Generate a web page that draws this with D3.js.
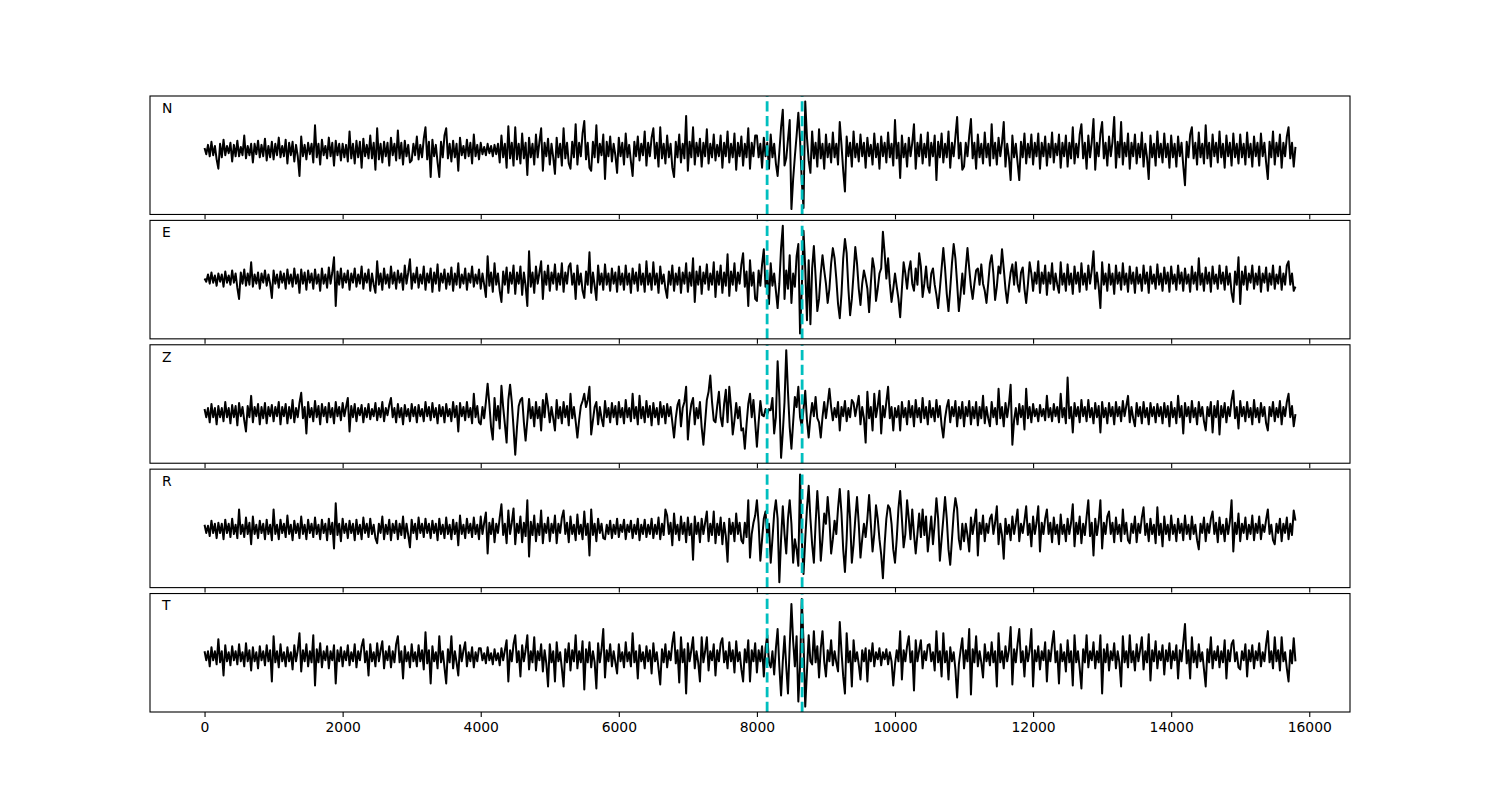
<!DOCTYPE html>
<html>
<head>
<meta charset="utf-8">
<title>Seismogram</title>
<script src="https://d3js.org/d3.v7.min.js"></script>
<style>
  body { margin: 0; background: #fff; }
  text { font-family: "DejaVu Sans", sans-serif; }
</style>
</head>
<body>
<svg id="chart" width="1500" height="800"></svg>
<script>

var components = ["N", "E", "Z", "R", "T"];
var sampleStep = 25;          // one value every 25 samples
var picks = [8148, 8655];     // dashed cyan markers
var xTicks = [0, 2000, 4000, 6000, 8000, 10000, 12000, 14000, 16000];

// amplitudes (arbitrary units), one row = 1000 samples
var traceN = [
  2,-4,5,-6, 8,-5,4,-9, -18,6,-7,10, -5,4,-3,7, -11,5,-6,9, -6,3,-5,14, -8,4,-5,6, -12,6,-4,9, -7,5,-6,11, -10,4,-7,8,
  -9,6,-5,12, -7,4,-6,10, -13,7,-5,8, -11,5,-6,-25, 13,-6,5,-9, 7,-4,6,-12, 24,-7,6,-14, 10,-5,4,-8, 12,-6,7,-15, 9,-5,6,-10,
  6,-7,5,-11, 18,-8,6,-13, 9,-7,8,-17, 11,-6,5,-8, 14,-8,7,-19, 21,-9,6,-12, 8,-6,7,-15, 12,-5,6,-10, 19,-8,7,-14, 9,-6,5,-12,
  -10,6,-5,13, -9,5,-7,11, 22,-9,8,-26, 10,-6,5,-12, -26,8,-7,14, 21,-8,6,-11, 9,-7,6,-20, 12,-5,4,-8, 10,-6,7,-13, 15,-6,5,-9,
  7,-4,3,-5, 6,-3,4,-6, 5,-4,6,-12, 14,-7,6,-17, 23,-8,7,-15, 22,-9,6,-13, 16,-8,7,-24, 12,-7,6,-14, 15,-7,8,21, -20,7,-6,11,
  -14,6,-7,-23, 12,-7,6,-15, 21,-8,7,-13, -18,8,-7,25, -14,7,-6,16, 28,-9,7,-17, -20,8,-7,24, -12,6,-5,15, -28,8,-6,13, -11,6,-5,-22,
  12,-6,7,-14, 16,-7,5,-11, -25,8,-6,13, -10,6,-5,18, -15,7,-6,12, 21,-8,7,-16, 22,-8,6,-13, 14,-7,6,-17, -26,8,-7,15, -12,6,-8,33,
  -20,8,-7,22, -14,7,-6,11, -16,7,-6,20, -13,6,-7,15, -10,5,-6,14, -17,7,-6,18, -12,6,-7,16, -19,7,-6,13, -15,6,-7,21, -18,7,-6,14,
  14,-7,6,-17, 12,-6,7,-18, 15,-7,6,-13, -25,-2,22,39, -15,-8,10,29, -57,-28,-6,14, 36,10,-30,-56, 47,12,-10,-22, 18,-8,7,-16, 20,-8,6,-18,
  15,-7,6,-12, 17,-7,6,-14, 27,5,-20,-40, 13,-6,7,-16, 18,-7,6,-11, 15,-6,7,-17, 12,-6,5,-14, 16,-7,6,-18, 13,-6,7,-12, 17,-7,6,-15,
  29,-8,7,-27, 14,-7,6,-16, 12,-6,7,25, -18,7,-6,15, -13,6,-7,17, -15,7,-6,14, -29,8,-7,16, -12,6,-7,18, -17,7,-6,13, 32,-8,7,-19,
  -16,7,-6,14, 30,-8,7,-18, 15,-7,6,-13, 17,-7,6,-15, 25,-8,7,-14, 12,-6,7,27, -16,6,-7,-29, 14,-7,6,-12, -29,8,-7,16, -13,6,-7,15,
  -14,7,-6,16, -18,7,-6,13, -15,6,-7,17, -12,6,-5,15, -17,7,-6,14, -16,7,-8,22, -13,6,-7,15, 25,-8,7,-18, 14,-7,8,30, -19,7,-6,16,
  27,-8,7,-15, 13,-6,8,32, -17,8,-7,27, -14,7,-6,16, -18,7,-6,15, -13,6,-7,17, -16,6,-7,-28, 14,-7,6,-15, 18,-7,6,-12, 16,-7,6,-17,
  14,-7,6,-16, 13,-6,7,-15, -34,8,-7,15, 22,-8,7,-14, 17,-7,6,-13, 24,-8,7,-16, 15,-6,7,-12, 18,-7,6,-17, 14,-6,7,-15, 16,-7,6,-13,
  15,-7,6,-14, 17,-7,6,-16, 13,-6,7,-15, 16,-6,7,-12, -28,8,-7,18, -14,7,-6,15, -17,7,-6,13, 22,-8,7,-16, 3
];

var traceE = [
  0,-3,4,-5, 6,-4,3,-7, 5,-3,4,-8, 7,-4,3,-6, 8,-4,5,-9, -20,6,-5,9, -7,5,-6,16, -8,4,-5,6, -10,5,-4,8, -7,4,-5,-19,
  8,-5,4,-9, 7,-4,5,-10, 9,-5,4,-8, 10,-5,4,-14, 9,-5,6,-11, 8,-4,5,-10, 9,-5,4,-12, 10,-5,4,-9, 11,-5,6,21, -27,7,-6,10,
  -9,5,-4,8, -11,5,-4,10, -8,4,-5,12, -10,5,-4,9, -12,5,-6,-14, 17,-6,5,-11, 10,-5,4,-9, 12,-5,6,-10, 8,-4,5,-11, 13,-5,6,19,
  -10,5,-4,11, -9,4,-5,12, -11,5,-4,10, -13,6,-5,14, -12,5,-4,9, -10,5,-6,11, -12,5,-6,15, -9,4,-5,10, -11,5,-4,12, -8,4,-5,9,
  -10,5,-6,-18, 22,-7,6,-13, 15,-6,5,-12, -23,7,-6,11, -14,6,-5,13, -15,6,-5,12, -16,6,-7,-27, 27,-8,6,-14, 12,-5,6,17, -20,7,-6,13,
  -12,6,-5,14, -11,5,-6,15, -13,6,-5,12, 15,-6,5,-20, 13,-6,5,-12, -19,7,-6,26, -14,6,-7,-21, 13,-6,5,-11, 14,-6,5,-12, 10,-5,6,-13,
  12,-6,5,-11, 13,-6,5,-14, 10,-5,6,-12, 14,-6,5,-13, 17,-6,5,-11, 16,-6,5,-14, 12,-5,4,-10, -19,7,-6,13, -12,5,-6,11, -14,6,-5,15,
  -13,6,-7,20, -23,7,-6,12, -15,6,-5,14, -11,5,-6,16, -18,7,-6,13, -14,6,-7,24, -17,7,-6,15, -12,6,-5,14, 25,-8,7,-27, 18,-7,6,-20,
  -22,8,-7,14, 29,-8,6,-25, 15,-7,5,-12, -29,-5,30,52, -20,8,-10,23, -24,5,-8,22, 34,-54,-10,47, 10,-41,18,-45, 10,32,2,-32, -20,5,23,8,
  -5,-24,-10,15, 30,20,0,-25, -39,-15,20,39, 25,-10,-36,-20, 5,31,15,-10, -26,-5,8,0, -10,-33,-5,20, 10,-22,-10,5, 10,46,25,0, 20,-5,-23,-10,
  5,-8,-20,-38, -10,16,5,-10, 8,17,-5,-12, 10,-6,25,12, -18,-5,12,-8, -14,5,10,-6, -16,-29,-10,10, 30,10,-15,-32, -10,15,34,20, -5,-32,-15,5,
  -15,10,30,10, -8,-20,-5,8, 10,-6,14,-5, -12,-24,-5,15, 23,5,-21,-8, 12,5,29,10, -10,-24,-8,6, 14,-6,16,-5, -13,6,11,-10, -24,-6,16,5,
  -12,6,-5,17, -14,6,-5,13, -16,6,-5,15, -11,5,-6,-14, 16,-6,5,-12, 14,-6,5,-15, 12,-5,6,-13, 15,-6,5,-11, 13,-5,8,27, -10,6,-8,-29,
  16,-6,5,-12, 14,-6,5,-15, 13,-5,6,-11, 15,-6,5,-13, 12,-5,6,-14, 11,-5,4,-12, 13,-5,6,-14, 12,-5,4,-10, 14,-6,5,-12, 11,-5,6,-13,
  12,-5,4,-11, 13,-5,6,-12, 10,-5,4,-13, 12,-5,6,-11, 20,-6,5,-12, 11,-5,6,-13, 12,-5,4,-10, 13,-5,6,-11, 12,-6,5,-14, -23,7,-6,21,
  -25,7,-6,12, -11,5,-4,13, -10,5,-6,12, -13,5,-4,11, -12,5,-6,13, -10,4,-5,12, -11,5,-6,13, 17,-6,5,-12, -8
];

var traceZ = [
  3,-5,4,-10, 8,-5,4,-12, 6,-5,4,-9, 10,-5,4,-11, 7,-5,6,-13, 9,-4,5,-8, -19,6,-5,16, -10,5,-4,8, -12,5,-6,9, -11,5,-4,7,
  -9,5,-4,10, -12,5,-4,8, -11,5,-6,12, -10,4,-5,9, 19,-6,5,-21, 10,-5,4,-9, 11,-5,6,-12, 8,-4,5,-10, 9,-5,4,-11, 10,-4,5,-8,
  9,-4,5,14, -19,6,-5,8, -9,4,-3,7, -10,4,-5,8, -7,3,-4,9, -8,4,-5,10, -9,4,-3,7, 14,-5,4,-10, 8,-5,4,-12, 7,-4,3,-9,
  8,-4,5,-10, 7,-4,3,-9, 10,-4,5,-8, 9,-5,4,-11, 7,-4,5,-10, 8,-4,3,-9, 10,-5,6,-19, 9,-4,5,-8, 10,-5,4,-11, 18,-5,6,-10,
  -12,5,-6,10, 28,8,-15,-27, 14,-8,6,-16, 26,5,-12,-30, 12,27,10,-15, -42,-15,6,12, 14,-10,-28,-8, 13,-6,5,-14, 10,-6,5,-18, 12,-5,18,6,
  -10,5,-6,-18, 12,-6,5,-11, 10,-5,6,-13, 18,-6,5,-9, -25,-8,6,11, 18,5,12,25, -22,-8,5,10, -12,5,-6,-14, 11,-5,4,-10, 9,-5,6,-12,
  10,-5,4,-11, 12,-5,4,-9, 18,-6,5,-12, 16,-6,5,-10, 11,-5,6,-13, 9,-5,4,-12, 10,-5,6,-11, 8,-4,5,-10, -25,-6,7,12, -14,4,10,25,
  -27,-5,8,14, -12,4,-6,10, -15,-32,-10,12, 20,36,10,-8, -10,6,20,-5, -14,8,22,-10, 25,5,-22,-8, 9,-6,5,-18, -16,-36,-12,8, 18,-5,12,-10,
  -34,-10,11,-3, -4,3,-2,3, 2,14,-21,-5, 50,15,-45,-20, 10,61,20,-15, -36,-10,15,5, 25,-5,-14,3, 21,-8,-25,-5, 9,-4,15,-6, -10,-25,-5,10,
  -6,8,23,5, -8,4,-5,10, -18,5,-4,11, -9,4,-5,12, 9,-4,6,16, -12,5,-6,-30, 20,-6,5,-18, 18,-5,6,21, -21,6,-5,10, 25,-6,5,-18,
  4,-5,6,-18, 10,-5,4,-12, 11,-5,6,-14, 12,-5,4,-10, 14,-6,5,-12, 11,-5,4,-9, 12,-5,6,-13, -25,-6,5,12, -10,5,-4,11, -14,5,-6,10,
  -14,5,-4,11, -12,5,-6,10, -13,5,-6,16, -11,5,-6,-14, 10,-5,4,-12, 23,-6,5,-14, 9,-5,8,27, -32,-8,4,-12, 8,-5,6,-17, 23,-6,5,-10,
  8,-4,3,-9, 7,-4,3,-8, 16,-5,4,-9, 8,-4,5,-10, 18,-5,4,-11, 34,-6,5,-20, 9,-4,5,-10, 12,-4,5,-9, 12,-5,4,-11, 9,-5,6,-20,
  10,-5,4,-11, 9,-4,5,-12, 10,-4,5,-9, 11,-4,6,16, -10,5,-6,-14, 9,-4,5,-11, 10,-5,4,-12, 9,-4,5,-10, 8,-4,5,-11, 9,-5,6,-14,
  10,-5,4,-11, 16,-5,6,-21, 9,-4,5,-10, 11,-5,4,-12, 10,-4,5,-9, -18,5,-4,10, -20,6,-5,11, -22,6,-5,9, -10,5,-4,12, 21,-6,5,-16,
  11,-4,5,-9, 10,-5,4,-12, 12,-5,4,-10, 9,-4,5,-11, -18,5,-4,10, -9,4,-5,11, -12,5,-4,10, 18,-5,6,-14, -2
];

var traceR = [
  4,-4,3,-7, 8,-4,5,-9, 6,-4,5,-10, 9,-4,5,-8, 10,-5,4,-9, 19,-5,4,-8, 11,-5,6,-15, 12,-5,4,-9, 8,-4,5,-10, 9,-5,4,-11,
  19,-5,4,-10, 9,-4,5,-8, 13,-5,4,-11, 8,-4,5,-9, 12,-5,4,-10, 9,-4,5,-8, 11,-5,4,-10, 9,-4,5,-11, 10,-5,6,-19, 25,-6,5,-12,
  10,-4,5,-9, 8,-4,5,-11, 9,-5,4,-10, 11,-4,5,-8, 10,-5,4,-9, -14,5,-4,12, -10,4,-5,9, -11,5,-4,8, -10,5,-6,12, -9,5,-6,-18,
  9,-4,5,-10, 11,-4,5,-8, 10,-4,5,-9, 8,-4,5,-11, 10,-5,4,-9, 11,-5,4,-10, 9,-5,6,-16, 13,-5,4,-9, 10,-4,5,-8, 11,-5,4,-10,
  12,-5,6,16, -24,6,-5,10, -13,5,-4,11, 24,-6,5,-14, 18,-5,6,20, -15,5,-4,12, -13,6,-7,28, -27,7,-6,13, -12,5,-6,18, -14,5,-4,11,
  -12,5,-4,13, -14,5,-4,11, 18,-5,6,-13, 12,-5,4,-11, 14,-5,4,-10, 17,-6,5,-26, 19,-6,5,-12, 10,-4,5,-9, -10,4,-5,8, -9,4,-5,10,
  -8,4,-3,9, -10,4,-3,8, -9,4,-5,10, -11,4,-5,9, -8,4,-5,10, -9,4,-5,11, -10,5,-6,19, 13,-5,6,-16, 15,-5,4,-11, 12,-5,6,-13,
  11,-6,5,-30, 12,-5,6,-13, 10,-5,6,17, -12,5,-6,17, -14,5,-6,11, -15,6,-7,-32, 10,-5,6,-12, 15,-5,6,-11, -14,6,-8,28, -28,-5,6,13,
  28,5,-31,-10, 10,17,-8,5, -33,-10,15,28, 10,-52,-10,22, -5,-24,10,28, 5,-33,-10,-20, -36,53,-10,-44, -10,20,42,10, -15,-33,5,37, 10,-31,-10,15,
  5,31,10,-24, -10,8,-5,20, 39,15,-20,-42, -10,37,10,-33, -15,10,31,5, -28,-10,5,-8, 10,33,5,-22, -5,23,10,-10, -25,-48,-15,10, 23,20,5,-20,
  -33,-10,20,37, 10,-18,-5,28, 10,-10,19,-5, -24,-5,15,-8, 19,-6,12,-22, -5,12,-15,5, 30,10,-31,-10, 10,31,10,-20, -35,-10,15,30, 20,-10,-20,5,
  -12,5,-6,-22, 11,-5,6,19, -26,6,-5,13, -12,5,-4,10, 14,-5,6,22, -15,5,-6,-29, 10,-5,4,-11, 12,-5,6,19, -12,5,-4,8, 22,-6,5,-17,
  12,-5,6,22, -22,6,-5,10, 19,-5,6,-13, 11,-5,4,-15, 14,-5,4,-12, 10,-5,6,24, -17,6,-5,12, -14,5,-6,12, 28,-7,6,-26, 10,-6,7,28,
  -19,6,-5,12, 17,-5,6,-13, 11,-5,4,-12, 19,-5,6,-11, -14,5,-4,12, -13,5,-4,11, 21,-6,5,-12, 10,-5,4,-14, 21,-6,5,-17, 12,-5,4,-11,
  13,-5,4,-12, 10,-4,5,-11, 13,-5,4,-10, 12,-5,4,-11, -20,5,-4,11, -12,5,-4,10, 17,-5,6,-13, 11,-5,4,-12, 10,-5,7,28, -22,6,-5,15,
  -12,5,-4,11, -10,4,-5,13, -11,5,-4,12, -10,4,-3,9, 19,-5,4,-11, -15,5,-4,10, -12,5,-4,11, -10,5,-6,18, 8
];

var traceT = [
  5,-4,5,-10, 9,-4,5,-8, 17,-6,5,-19, 11,-5,4,-9, 10,-4,5,-8, 12,-5,4,-10, 13,-5,6,-14, 9,-5,4,-12, 10,-4,5,-9, 11,-5,6,-25,
  20,-6,5,-11, 12,-5,4,-10, 9,-5,4,-13, 11,-5,6,23, -15,6,-5,12, -10,5,-6,21, -29,7,-6,13, -11,5,-4,10, -12,5,-4,11, -27,6,-5,9,
  -10,5,-4,11, -9,4,-5,12, -11,5,-4,10, 17,-6,5,-19, 12,-5,4,-10, 13,-5,6,15, -12,5,-4,10, -11,5,-6,12, 20,-6,5,-22, 10,-5,4,-11,
  12,-5,4,-10, 11,-5,6,-13, 24,-7,6,-27, 10,-5,4,-12, 20,-6,5,-11, -27,7,-6,20, -12,5,-6,-19, 11,-5,6,14, -10,4,-5,9, -11,4,-5,8,
  8,-4,3,-7, 9,-4,3,-8, 7,-4,3,-9, 8,-4,6,16, -25,6,-5,12, 21,-6,5,-20, 11,-5,6,21, -13,5,-6,19, -14,5,-4,12, -15,6,-7,-30,
  12,-6,5,-25, 14,-5,4,-12, -30,7,-6,13, -14,6,-5,21, -12,5,-6,15, -33,7,-6,14, -11,5,-6,-32, 13,-6,7,27, -21,6,-5,12, -10,5,-6,-17,
  12,-5,4,-11, 14,-5,4,-10, 23,-6,5,-22, 11,-5,4,-12, 10,-5,6,-17, 13,-5,4,-12, -28,7,-6,12, -11,5,-4,13, 24,-7,6,-26, 19,-6,7,-37,
  13,-5,6,19, -12,5,-6,-25, 19,-6,5,19, -14,5,-4,12, -19,6,-5,13, 18,-6,5,-12, 14,-5,6,-16, 15,-5,4,-13, -25,7,-6,16, -25,6,-5,13,
  -16,6,-5,10, -20,8,21,-6, -11,5,-18,8, 27,-10,-39,-5, 20,-10,-37,10, 52,15,-10,20, -45,-10,57,15, -50,-15,21,-5, -8,25,-6,10, -21,8,25,-5,
  -20,6,-5,16, -9,5,-6,-15, 34,5,-20,-37, 23,-6,5,-30, 16,-5,4,-8, -23,6,-5,8, -25,6,-5,13, -10,4,-3,8, -9,4,-3,7, -8,4,-5,-29,
  -8,6,-5,25, -23,6,-5,10, 20,-6,5,-34, 16,-5,6,16, -12,5,-4,11, 12,-5,4,-14, 25,-6,5,-20, 23,-6,5,-23, 9,-5,4,-13, -41,-8,6,18,
  -12,6,-5,27, -38,7,-6,20, -10,5,-6,-21, 12,-5,4,-9, 14,-6,5,-30, 23,-6,5,-12, 10,-5,6,29, -28,7,-6,12, 27,-6,5,-20, 10,-5,6,27,
  -30,6,-5,10, -13,5,-4,14, -25,6,-5,12, 25,-6,5,-27, 12,-5,4,-15, 16,-6,5,-29, 21,-6,5,-12, -32,7,-6,21, -11,5,-4,14, -12,5,-6,21,
  -37,7,-6,12, -14,5,-4,13, -12,5,-6,-30, 20,-6,5,-11, 21,-6,5,-14, 12,-5,6,19, -13,5,-6,22, -24,6,-5,15, -12,5,-4,11, -18,6,-5,13,
  -12,5,-4,11, -22,6,-5,13, 32,-7,6,-22, 19,-6,5,-11, 12,-5,4,-13, -30,7,-6,19, -12,5,-4,10, -11,5,-6,16, -22,6,-5,12, 16,-5,4,-11,
  -13,5,-4,12, -20,6,-5,11, -12,5,-4,13, -10,4,-5,12, 25,-6,5,-12, 19,-5,6,-14, 19,-5,4,-12, -25,6,-7,18, -5
];

var traces = [traceN, traceE, traceZ, traceR, traceT];

var W = 1500, H = 800;
var plotLeft = 150, plotRight = 1350, plotTop = 96, plotBottom = 712;
var nPanels = components.length;
var hspace = 0.05;
var panelH = (plotBottom - plotTop) / (nPanels + (nPanels - 1) * hspace);
var gap = panelH * hspace;

var svg = d3.select("#chart");
svg.append("rect").attr("width", W).attr("height", H).attr("fill", "#fff");

// matplotlib-like 5% margins on the sample range
var nMax = d3.max(traces, function (t) { return (t.length - 1) * sampleStep; });
var xPad = nMax * 0.05;
var x = d3.scaleLinear().domain([-xPad, nMax + xPad]).range([plotLeft, plotRight]);

traces.forEach(function (vals, i) {
  var y0 = plotTop + i * (panelH + gap);
  var ext = d3.extent(vals);
  var pad = (ext[1] - ext[0]) * 0.05;
  var y = d3.scaleLinear().domain([ext[0] - pad, ext[1] + pad]).range([y0 + panelH, y0]);

  var g = svg.append("g");

  var line = d3.line()
    .x(function (d, j) { return x(j * sampleStep); })
    .y(function (d) { return y(d); });

  g.append("path")
    .datum(vals)
    .attr("d", line)
    .attr("fill", "none")
    .attr("stroke", "#000")
    .attr("stroke-width", 2)
    .attr("stroke-linejoin", "round");

  g.selectAll("line.pick")
    .data(picks)
    .enter().append("line")
    .attr("class", "pick")
    .attr("x1", function (d) { return x(d); })
    .attr("x2", function (d) { return x(d); })
    .attr("y1", y0 + panelH)
    .attr("y2", y0)
    .attr("stroke", "#00bfbf")
    .attr("stroke-width", 2.8)
    .attr("stroke-dasharray", "10.3,4.4");

  g.append("rect")
    .attr("x", plotLeft).attr("y", y0)
    .attr("width", plotRight - plotLeft).attr("height", panelH)
    .attr("fill", "none")
    .attr("stroke", "#000")
    .attr("stroke-width", 1.1);

  g.append("text")
    .attr("x", plotLeft + 0.01 * (plotRight - plotLeft))
    .attr("y", y0 + 0.1 * panelH)
    .attr("dominant-baseline", "central")
    .attr("font-size", "13.9px")
    .attr("fill", "#000")
    .text(components[i]);

  var axis = d3.axisBottom(x)
    .tickValues(xTicks)
    .tickFormat(d3.format("d"))
    .tickSize(4.9)
    .tickSizeOuter(0)
    .tickPadding(4.9);
  if (i < nPanels - 1) axis.tickFormat("");

  var ax = g.append("g")
    .attr("transform", "translate(0," + (y0 + panelH) + ")")
    .call(axis);
  ax.select(".domain").remove();
  ax.selectAll(".tick line").attr("stroke", "#000").attr("stroke-width", 1.1);
  ax.selectAll(".tick text")
    .attr("font-family", "DejaVu Sans, sans-serif")
    .attr("font-size", "13.9px")
    .attr("fill", "#000");
});

</script>
</body>
</html>
